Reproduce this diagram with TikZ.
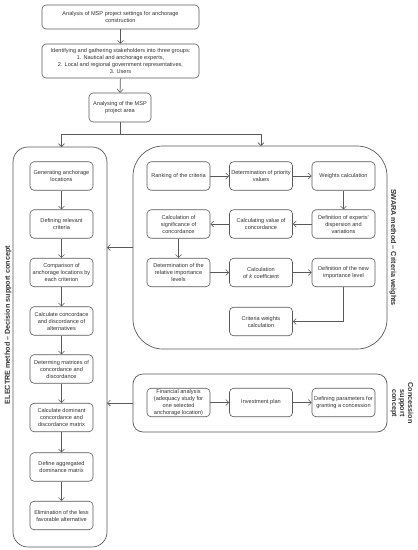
\documentclass[tikz,border=0pt]{standalone}
\usepackage{fontspec}
\setmainfont{Liberation Sans}
\usetikzlibrary{arrows.meta}
\definecolor{ln}{HTML}{5A5A5A}
\definecolor{tx}{HTML}{333333}
\tikzset{
  box/.style={draw=ln, line width=0.6pt, rounded corners=4pt, inner sep=0pt, align=center,
    minimum width=63pt, minimum height=28.5pt, text=tx, font=\fontsize{5.6}{7}\selectfont},
  big/.style={draw=ln, line width=0.7pt},
  conn/.style={draw=ln, line width=0.6pt, -{Straight Barb[length=3pt,width=6pt]}},
  plain/.style={draw=ln, line width=0.6pt},
  lab/.style={text=tx, font=\fontsize{7.2}{8}\selectfont\bfseries, align=center, inner sep=0pt}
}
\begin{document}
\begin{tikzpicture}[x=1pt,y=-1pt]
\useasboundingbox[fill=white] (0,0) rectangle (418,550);

% top column
\node[box, minimum width=157pt, minimum height=24pt] (t1) at (120.5,17) {Analysis of MSP project settings for anchorage\\construction};
\node[box, minimum width=157pt, minimum height=34pt] (t2) at (120.5,61) {Identifying and gathering stakeholders into three groups:\\1. Nautical and anchorage experts,\\2. Local and regional government representatives,\\3. Users};
\node[box, minimum width=62pt, minimum height=29pt] (t3) at (120,107.5) {Analysing of the MSP\\project area};
\draw[conn] (t1) -- (t2);
\draw[conn] (t2) -- (t3);

% big containers
\draw[big, rounded corners=15pt] (13,147) rectangle (107,547);
\draw[big, rounded corners=30pt] (133,146) rectangle (387,349);
\draw[big, rounded corners=10pt] (133,374) rectangle (387,432);
\coordinate (eTop) at (61.5,147);
\coordinate (sTop) at (261,146);
\coordinate (eR1) at (107,247.5);
\coordinate (sL) at (133,247.5);
\coordinate (eR2) at (107,403);
\coordinate (cL) at (133,403);
\coordinate (jn) at (120,134);
\coordinate (jl) at (61.5,134);
\coordinate (jr) at (261,134);

\draw[plain] (t3.south) -- (jn);
\draw[plain] (jl) -- (jr);
\draw[conn] (jl) -- (eTop);
\draw[conn] (jr) -- (sTop);
\draw[conn] (sL) -- (eR1);
\draw[conn] (cL) -- (eR2);

% labels
\node[lab, rotate=90] (le) at (8,325) {ELECTRE method -- Decision support concept};
\node[lab, rotate=-90] (ls) at (393,247.5) {SWARA method -- Criteria weights};
\node[lab, rotate=-90] (lc) at (402,403) {Concession\\support\\concept};

% ELECTRE column
\node[box] (e1) at (61.5,176) {Generating anchorage\\locations};
\node[box] (e2) at (61.5,224) {Defining relevant\\criteria};
\node[box] (e3) at (61.5,272.5) {Comparison of\\anchorage locations by\\each criterion};
\node[box] (e4) at (61.5,321) {Calculate concordace\\and discordance of\\alternatives};
\node[box] (e5) at (61.5,369) {Determing matrices of\\concordance and\\discordance};
\node[box] (e6) at (61.5,417.5) {Calculate dominant\\concordance and\\discordance matrix};
\node[box] (e7) at (61.5,467) {Define aggregated\\dominance matrix};
\node[box] (e8) at (61.5,515.5) {Elimination of the less\\favorable alternative};
\foreach \a/\b in {e1/e2,e2/e3,e3/e4,e4/e5,e5/e6,e6/e7,e7/e8} \draw[conn] (\a) -- (\b);

% SWARA
\node[box] (s1) at (178.5,176) {Ranking of the criteria};
\node[box] (s2) at (261,176) {Determination of priority\\values};
\node[box] (s3) at (343.5,176) {Weights calculation};
\node[box] (s4) at (343.5,224) {Definition of experts'\\dispersion and\\variations};
\node[box] (s5) at (261,224) {Calculating value of\\concordance};
\node[box] (s6) at (178.5,224) {Calculation of\\significance of\\concordance};
\node[box] (s7) at (178.5,272.5) {Determination of the\\relative importance\\levels};
\node[box] (s8) at (261,272.5) {Calculation\\of \textit{k} coefficient};
\node[box] (s9) at (343.5,272.5) {Definition of the new\\importance level};
\node[box] (s10) at (261,321.5) {Criteria weights\\calculation};
\foreach \a/\b in {s1/s2,s2/s3,s3/s4,s4/s5,s5/s6,s6/s7,s7/s8,s8/s9} \draw[conn] (\a) -- (\b);
\draw[conn] (s9.south) |- (s10.east);

% Concession
\node[box] (c1) at (178.5,402.5) {Financial analysis\\(adequacy study for\\one selected\\anchorage location)};
\node[box] (c2) at (261,402.5) {Investment plan};
\node[box] (c3) at (343.5,402.5) {Defining parameters for\\granting a concession};
\draw[conn] (c1) -- (c2);
\draw[conn] (c2) -- (c3);
\end{tikzpicture}
\end{document}
